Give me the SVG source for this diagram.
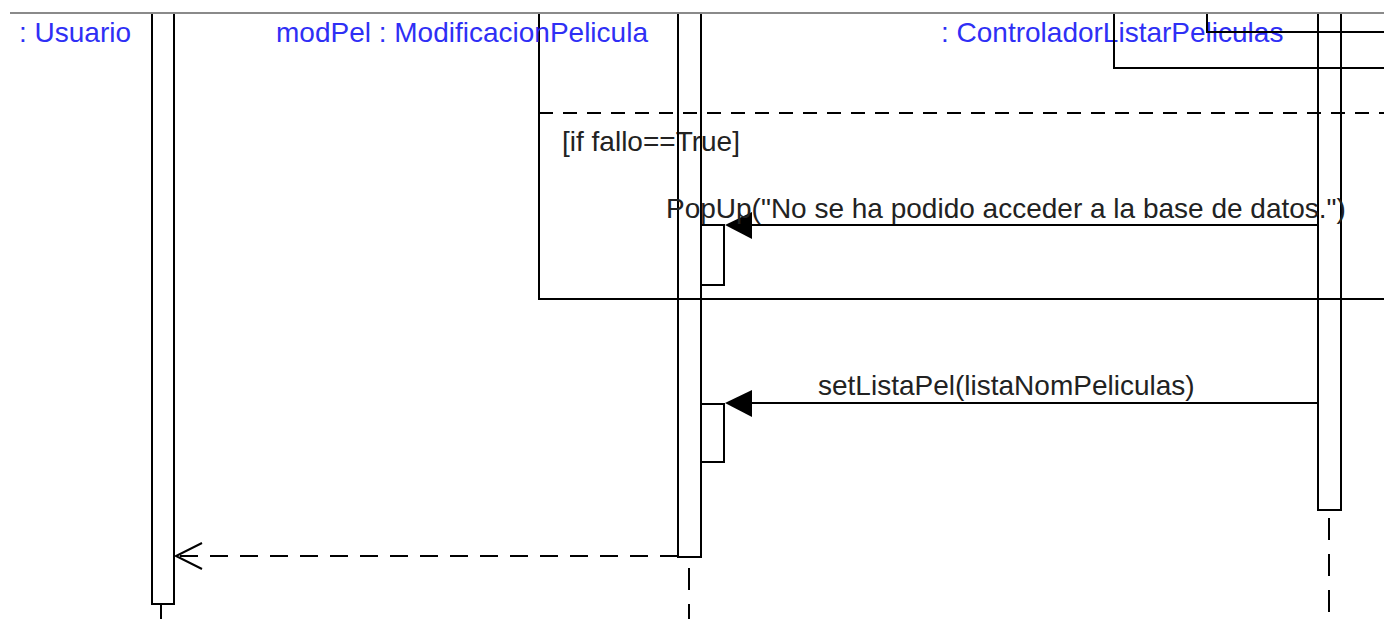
<svg xmlns="http://www.w3.org/2000/svg" width="1384" height="619" viewBox="0 0 1384 619">
<style>
.ln{stroke:#000;stroke-width:2;fill:none}
.act{stroke:#000;stroke-width:2;fill:none}
.life{stroke:#000;stroke-width:2;stroke-dasharray:22 14;fill:none}
.sep{stroke:#000;stroke-width:2;stroke-dasharray:14 10;fill:none}
.ret{stroke:#000;stroke-width:2;stroke-dasharray:18 12;fill:none}
.hdr{font-family:"Liberation Sans",Arial,sans-serif;font-size:28px;fill:#2f2ff5}
.lbl{font-family:"Liberation Sans",Arial,sans-serif;font-size:28px;fill:#222}
.head{fill:#000;stroke:none}
</style>
<rect width="1384" height="619" fill="#fff"/>
<g id="fragment">
<text class="lbl" x="562" y="151" font-size="25">[if fallo==True]</text>
<polyline class="ln" points="539,13 539,299 1384,299"/>
<line class="sep" x1="539" y1="113" x2="1384" y2="113"/>
</g>
<g id="usuario">
<text class="hdr" x="19" y="42">: Usuario</text>
<rect class="act" x="152" y="13" width="22" height="591"/>
<line class="ln" x1="161" y1="604" x2="161" y2="619"/>
</g>
<g id="modPel">
<text class="hdr" x="276" y="42">modPel : ModificacionPelicula</text>
<rect class="act" x="678" y="13" width="23" height="544"/>
<rect class="act" x="701" y="225" width="23" height="60"/>
<rect class="act" x="701" y="404" width="23" height="58"/>
<line class="life" x1="689" y1="568" x2="689" y2="619"/>
</g>
<g id="controlador">
<text class="hdr" x="941" y="42">: ControladorListarPeliculas</text>
<polyline class="ln" points="1114,13 1114,68 1384,68"/>
<polyline class="ln" points="1207,13 1207,32 1384,32"/>
<rect class="act" x="1318" y="13" width="23" height="497"/>
<line class="life" x1="1329" y1="518" x2="1329" y2="619"/>
</g>
<g id="connectors">
<line class="ln" x1="1318" y1="225" x2="740" y2="225"/>
<polygon class="head" points="725,225 752,212 752,239"/>
<text class="lbl" x="666" y="218">PopUp("No se ha podido acceder a la base de datos.")</text>
<line class="ln" x1="1318" y1="403" x2="740" y2="403"/>
<polygon class="head" points="725,403 752,390 752,417"/>
<text class="lbl" x="818" y="395">setListaPel(listaNomPeliculas)</text>
<line class="ret" x1="678" y1="556" x2="176" y2="556"/>
<polyline class="ln" points="202,543 176,556 202,569"/>
</g>
<rect x="0" y="0" width="1384" height="12" fill="#fff"/>
<line x1="10" y1="13" x2="1384" y2="13" stroke="#8a8a8a" stroke-width="2"/>
</svg>
